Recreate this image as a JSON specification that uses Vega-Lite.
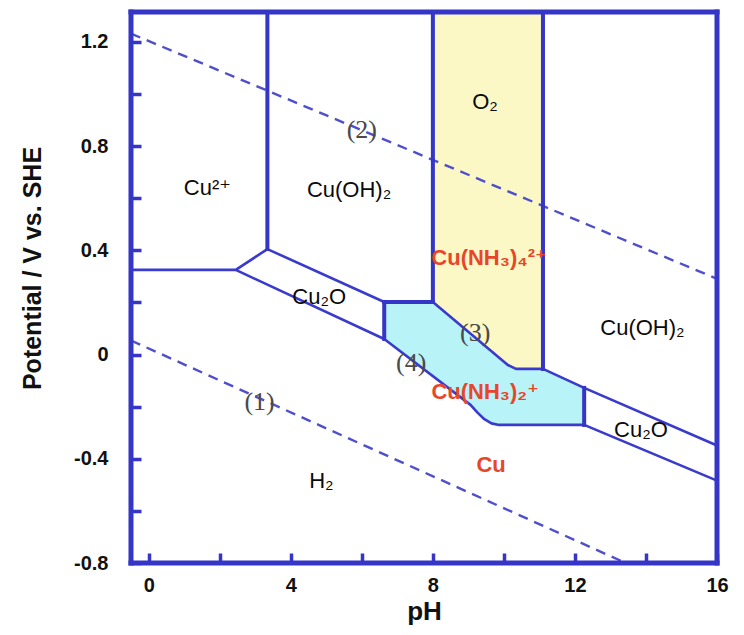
{
  "$schema": "https://vega.github.io/schema/vega-lite/v6.json",
  "autosize": {"type": "none"},
  "padding": {"left": 131, "top": 12, "right": 27, "bottom": 72},
  "width": 586,
  "height": 551,
  "background": "white",
  "config": {
    "view": {"stroke": null},
    "axis": {"grid": false, "domain": false}
  },
  "datasets": {
    "yellow": [
      {"pH": 8.0, "E": 1.315, "k": 1},
      {"pH": 11.1, "E": 1.315, "k": 2},
      {"pH": 11.1, "E": -0.055, "k": 3},
      {"pH": 10.34, "E": -0.055, "k": 4},
      {"pH": 10.11, "E": -0.04, "k": 5},
      {"pH": 8.0, "E": 0.202, "k": 6}
    ],
    "cyan": [
      {"pH": 6.63, "E": 0.202, "k": 1},
      {"pH": 8.0, "E": 0.202, "k": 2},
      {"pH": 10.11, "E": -0.04, "k": 3},
      {"pH": 10.34, "E": -0.055, "k": 4},
      {"pH": 11.1, "E": -0.055, "k": 5},
      {"pH": 12.26, "E": -0.128, "k": 6},
      {"pH": 12.26, "E": -0.27, "k": 7},
      {"pH": 9.86, "E": -0.27, "k": 8},
      {"pH": 9.65, "E": -0.264, "k": 9},
      {"pH": 9.45, "E": -0.248, "k": 10},
      {"pH": 9.25, "E": -0.222, "k": 11},
      {"pH": 9.06, "E": -0.193, "k": 12},
      {"pH": 6.63, "E": 0.06, "k": 13}
    ],
    "dashed": [
      {"id": "2", "pH": -0.5, "E": 1.232, "k": 1},
      {"id": "2", "pH": 16, "E": 0.291, "k": 2},
      {"id": "1", "pH": -0.5, "E": 0.054, "k": 1},
      {"id": "1", "pH": 13.43, "E": -0.8, "k": 2}
    ],
    "thin": [
      {"id": "g", "pH": -0.5, "E": 0.325, "k": 1},
      {"id": "g", "pH": 2.45, "E": 0.325, "k": 2},
      {"id": "g", "pH": 3.34, "E": 0.405, "k": 3},
      {"id": "h", "pH": 3.34, "E": 0.405, "k": 1},
      {"id": "h", "pH": 6.63, "E": 0.202, "k": 2},
      {"id": "i", "pH": 2.45, "E": 0.325, "k": 1},
      {"id": "i", "pH": 6.63, "E": 0.06, "k": 2},
      {"id": "i", "pH": 9.06, "E": -0.193, "k": 3},
      {"id": "i", "pH": 9.25, "E": -0.222, "k": 4},
      {"id": "i", "pH": 9.45, "E": -0.248, "k": 5},
      {"id": "i", "pH": 9.65, "E": -0.264, "k": 6},
      {"id": "i", "pH": 9.86, "E": -0.27, "k": 7},
      {"id": "i", "pH": 12.26, "E": -0.27, "k": 8},
      {"id": "i", "pH": 16, "E": -0.484, "k": 9},
      {"id": "j", "pH": 8.0, "E": 0.202, "k": 1},
      {"id": "j", "pH": 10.11, "E": -0.04, "k": 2},
      {"id": "j", "pH": 10.34, "E": -0.055, "k": 3},
      {"id": "j", "pH": 11.1, "E": -0.055, "k": 4},
      {"id": "j", "pH": 12.26, "E": -0.128, "k": 5},
      {"id": "j", "pH": 16, "E": -0.349, "k": 6}
    ],
    "thick": [
      {"id": "a", "pH": 3.34, "E": 1.315, "k": 1},
      {"id": "a", "pH": 3.34, "E": 0.405, "k": 2},
      {"id": "b", "pH": 8.0, "E": 1.315, "k": 1},
      {"id": "b", "pH": 8.0, "E": 0.202, "k": 2},
      {"id": "c", "pH": 11.1, "E": 1.315, "k": 1},
      {"id": "c", "pH": 11.1, "E": -0.055, "k": 2},
      {"id": "d", "pH": 6.63, "E": 0.202, "k": 1},
      {"id": "d", "pH": 6.63, "E": 0.06, "k": 2},
      {"id": "e", "pH": 12.26, "E": -0.128, "k": 1},
      {"id": "e", "pH": 12.26, "E": -0.27, "k": 2},
      {"id": "f", "pH": 6.63, "E": 0.202, "k": 1},
      {"id": "f", "pH": 8.0, "E": 0.202, "k": 2}
    ],
    "species": [
      {"t": "Cu²⁺", "pH": 1.65, "E": 0.64},
      {"t": "Cu(OH)₂", "pH": 5.64, "E": 0.632},
      {"t": "O₂", "pH": 9.47, "E": 0.97},
      {"t": "Cu₂O", "pH": 4.8, "E": 0.221},
      {"t": "Cu(OH)₂", "pH": 13.9, "E": 0.102},
      {"t": "Cu₂O", "pH": 13.86, "E": -0.29},
      {"t": "H₂", "pH": 4.86, "E": -0.485}
    ],
    "complexes": [
      {"t": "Cu(NH₃)₄²⁺", "pH": 9.58, "E": 0.371},
      {"t": "Cu(NH₃)₂⁺", "pH": 9.47, "E": -0.144},
      {"t": "Cu", "pH": 9.64, "E": -0.424}
    ],
    "lineLabels": [
      {"t": "(2)", "pH": 6.0, "E": 0.862},
      {"t": "(3)", "pH": 9.19, "E": 0.083},
      {"t": "(4)", "pH": 7.39, "E": -0.032},
      {"t": "(1)", "pH": 3.12, "E": -0.182}
    ],
    "one": [{}]
  },
  "layer": [
    {
      "data": {"name": "yellow"},
      "mark": {"type": "line", "fill": "#fcf8c6", "strokeWidth": 0},
      "encoding": {
        "x": {"field": "pH", "type": "quantitative", "title": "pH",
          "scale": {"domain": [-0.5, 16], "nice": false, "zero": false},
          "axis": {
            "values": [0, 2, 4, 6, 8, 10, 12, 14, 16],
            "labelExpr": "datum.value % 4 == 0 ? '' + datum.value : ''",
            "labelOverlap": false, "labelFlush": false,
            "domain": false, "grid": false,
            "tickSize": -10, "tickWidth": 3.5, "tickColor": "#3535c8",
            "labelFont": "Liberation Sans", "labelFontSize": 20, "labelFontWeight": "bold", "labelColor": "#111111",
            "labelPadding": 22,
            "titleFont": "Liberation Sans", "titleFontSize": 26, "titleFontWeight": "bold", "titleColor": "#111111",
            "titleY": 35, "titleBaseline": "top"
          }
        },
        "y": {"field": "E", "type": "quantitative", "title": "Potential / V vs. SHE",
          "scale": {"domain": [-0.8, 1.315], "nice": false, "zero": false},
          "axis": {
            "values": [-0.8, -0.6, -0.4, -0.2, 0, 0.2, 0.4, 0.6, 0.8, 1, 1.2],
            "labelExpr": "round(datum.value * 10) % 4 == 0 ? '' + datum.value : ''",
            "labelOverlap": false, "labelFlush": false,
            "domain": false, "grid": false,
            "tickSize": -10, "tickWidth": 3.5, "tickColor": "#3535c8",
            "labelFont": "Liberation Sans", "labelFontSize": 20, "labelFontWeight": "bold", "labelColor": "#111111",
            "labelPadding": 33,
            "titleFont": "Liberation Sans", "titleFontSize": 25, "titleFontWeight": "bold", "titleColor": "#111111",
            "titleX": -86, "titleY": 256
          }
        },
        "order": {"field": "k", "type": "quantitative"}
      }
    },
    {
      "data": {"name": "cyan"},
      "mark": {"type": "line", "fill": "#b8f3f7", "strokeWidth": 0},
      "encoding": {
        "x": {"field": "pH", "type": "quantitative", "title": "pH", "scale": {"domain": [-0.5, 16], "nice": false, "zero": false}},
        "y": {"field": "E", "type": "quantitative", "title": "Potential / V vs. SHE", "scale": {"domain": [-0.8, 1.315], "nice": false, "zero": false}},
        "order": {"field": "k", "type": "quantitative"}
      }
    },
    {
      "data": {"name": "dashed"},
      "mark": {"type": "line", "color": "#4f4fcc", "strokeWidth": 2.4, "strokeDash": [10, 7]},
      "encoding": {
        "x": {"field": "pH", "type": "quantitative", "title": "pH", "scale": {"domain": [-0.5, 16], "nice": false, "zero": false}},
        "y": {"field": "E", "type": "quantitative", "title": "Potential / V vs. SHE", "scale": {"domain": [-0.8, 1.315], "nice": false, "zero": false}},
        "detail": {"field": "id"},
        "order": {"field": "k", "type": "quantitative"}
      }
    },
    {
      "data": {"name": "thin"},
      "mark": {"type": "line", "color": "#3a3acc", "strokeWidth": 2.6, "strokeJoin": "round"},
      "encoding": {
        "x": {"field": "pH", "type": "quantitative", "title": "pH", "scale": {"domain": [-0.5, 16], "nice": false, "zero": false}},
        "y": {"field": "E", "type": "quantitative", "title": "Potential / V vs. SHE", "scale": {"domain": [-0.8, 1.315], "nice": false, "zero": false}},
        "detail": {"field": "id"},
        "order": {"field": "k", "type": "quantitative"}
      }
    },
    {
      "data": {"name": "thick"},
      "mark": {"type": "line", "color": "#3535c8", "strokeWidth": 4, "strokeCap": "square"},
      "encoding": {
        "x": {"field": "pH", "type": "quantitative", "title": "pH", "scale": {"domain": [-0.5, 16], "nice": false, "zero": false}},
        "y": {"field": "E", "type": "quantitative", "title": "Potential / V vs. SHE", "scale": {"domain": [-0.8, 1.315], "nice": false, "zero": false}},
        "detail": {"field": "id"},
        "order": {"field": "k", "type": "quantitative"}
      }
    },
    {
      "data": {"name": "species"},
      "mark": {"type": "text", "font": "Liberation Sans, DejaVu Sans, sans-serif", "fontSize": 22, "color": "#0a0a0a", "align": "center", "baseline": "middle"},
      "encoding": {
        "x": {"field": "pH", "type": "quantitative", "title": "pH", "scale": {"domain": [-0.5, 16], "nice": false, "zero": false}},
        "y": {"field": "E", "type": "quantitative", "title": "Potential / V vs. SHE", "scale": {"domain": [-0.8, 1.315], "nice": false, "zero": false}},
        "text": {"field": "t"}
      }
    },
    {
      "data": {"name": "complexes"},
      "mark": {"type": "text", "font": "Liberation Sans, DejaVu Sans, sans-serif", "fontSize": 22, "fontWeight": "bold", "color": "#e8462a", "align": "center", "baseline": "middle"},
      "encoding": {
        "x": {"field": "pH", "type": "quantitative", "title": "pH", "scale": {"domain": [-0.5, 16], "nice": false, "zero": false}},
        "y": {"field": "E", "type": "quantitative", "title": "Potential / V vs. SHE", "scale": {"domain": [-0.8, 1.315], "nice": false, "zero": false}},
        "text": {"field": "t"}
      }
    },
    {
      "data": {"name": "lineLabels"},
      "mark": {"type": "text", "font": "Liberation Serif, DejaVu Serif, serif", "fontSize": 26, "color": "#4a4a4a", "align": "center", "baseline": "middle"},
      "encoding": {
        "x": {"field": "pH", "type": "quantitative", "title": "pH", "scale": {"domain": [-0.5, 16], "nice": false, "zero": false}},
        "y": {"field": "E", "type": "quantitative", "title": "Potential / V vs. SHE", "scale": {"domain": [-0.8, 1.315], "nice": false, "zero": false}},
        "text": {"field": "t"}
      }
    },
    {
      "data": {"name": "one"},
      "mark": {"type": "rule", "color": "#3535c8", "strokeWidth": 5, "strokeCap": "square"},
      "encoding": {"y": {"datum": 1.315, "type": "quantitative", "title": "Potential / V vs. SHE", "scale": {"domain": [-0.8, 1.315], "nice": false, "zero": false}}}
    },
    {
      "data": {"name": "one"},
      "mark": {"type": "rule", "color": "#3535c8", "strokeWidth": 5, "strokeCap": "square"},
      "encoding": {"y": {"datum": -0.8, "type": "quantitative", "title": "Potential / V vs. SHE", "scale": {"domain": [-0.8, 1.315], "nice": false, "zero": false}}}
    },
    {
      "data": {"name": "one"},
      "mark": {"type": "rule", "color": "#3535c8", "strokeWidth": 5, "strokeCap": "square"},
      "encoding": {"x": {"datum": -0.5, "type": "quantitative", "title": "pH", "scale": {"domain": [-0.5, 16], "nice": false, "zero": false}}}
    },
    {
      "data": {"name": "one"},
      "mark": {"type": "rule", "color": "#3535c8", "strokeWidth": 5, "strokeCap": "square"},
      "encoding": {"x": {"datum": 16, "type": "quantitative", "title": "pH", "scale": {"domain": [-0.5, 16], "nice": false, "zero": false}}}
    }
  ]
}
